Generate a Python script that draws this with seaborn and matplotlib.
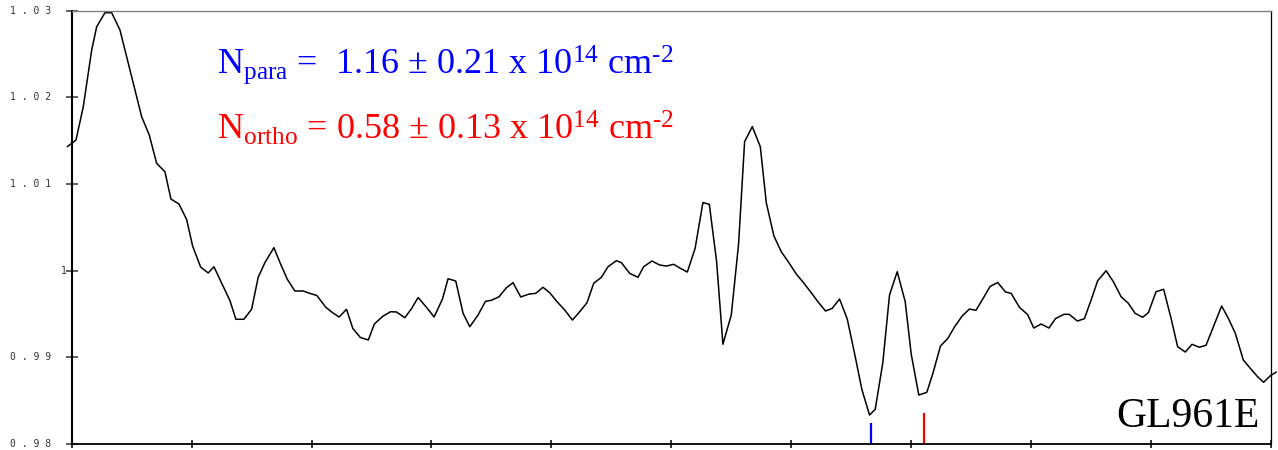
import numpy as np
import pandas as pd
import matplotlib
matplotlib.use("Agg")
import matplotlib.pyplot as plt
import seaborn as sns

# Spectrum: channel position (tick units of 120) and normalised flux
channel = [
    -4.4, 4.3, 11.6, 20.0, 25.0, 33.3, 40.0, 48.3, 56.6, 63.3,
    70.0, 77.6, 85.0, 93.3, 99.3, 107.3, 115.0, 121.0, 129.0, 136.6,
    142.3, 150.0, 158.3, 164.3, 172.3, 180.0, 186.6, 193.3, 202.3, 209.0,
    215.6, 223.3, 231.6, 238.3, 245.3, 254.3, 261.0, 267.6, 275.0, 281.3,
    288.8, 296.8, 302.8, 311.3, 319.0, 325.0, 333.3, 340.0, 346.6, 355.0,
    362.6, 371.0, 376.6, 384.3, 391.6, 398.3, 406.6, 414.0, 420.0, 427.6,
    435.0, 441.6, 449.3, 457.6, 464.3, 471.6, 478.3, 485.6, 493.3, 501.0,
    508.3, 515.6, 522.3, 530.0, 536.6, 545.0, 550.0, 558.3, 566.6, 572.3,
    580.6, 588.3, 595.0, 602.3, 609.0, 616.0, 623.8, 631.6, 638.0, 645.3,
    651.6, 660.0, 667.3, 673.3, 681.0, 689.0, 695.0, 702.6, 710.0, 717.6,
    725.0, 733.3, 740.0, 746.6, 754.3, 761.0, 768.3, 776.0, 783.3, 790.6,
    798.3, 804.0, 811.6, 818.3, 826.0, 834.0, 840.0, 847.6, 855.6, 861.6,
    869.3, 876.6, 883.3, 891.0, 898.3, 904.8, 911.6, 919.0, 926.6, 934.3,
    940.0, 948.3, 956.6, 962.6, 970.0, 977.8, 984.3, 992.8, 998.0, 1006.3,
    1013.3, 1020.0, 1026.6, 1035.0, 1042.3, 1050.0, 1057.3, 1064.0, 1071.6, 1077.3,
    1085.0, 1092.6, 1100.0, 1106.6, 1114.3, 1121.0, 1128.3, 1135.0, 1142.6, 1150.6,
    1157.3, 1164.3, 1172.3, 1179.3, 1186.6, 1192.6, 1199.0, 1205.3,
]
flux = [
    1.01430, 1.01507, 1.01891, 1.02545, 1.02814, 1.02976, 1.02976, 1.02776, 1.02392, 1.02084,
    1.01776, 1.01565, 1.01238, 1.01141, 1.00826, 1.00769, 1.00590, 1.00284, 1.00042, 0.99973,
    1.00045, 0.99857, 0.99655, 0.99439, 0.99439, 0.99554, 0.99923, 1.00092, 1.00265, 1.00077,
    0.99903, 0.99765, 0.99765, 0.99738, 0.99713, 0.99577, 0.99515, 0.99465, 0.99554, 0.99332,
    0.99229, 0.99200, 0.99384, 0.99473, 0.99526, 0.99523, 0.99457, 0.99561, 0.99690, 0.99577,
    0.99465, 0.99673, 0.99907, 0.99880, 0.99508, 0.99353, 0.99488, 0.99646, 0.99658, 0.99699,
    0.99803, 0.99861, 0.99696, 0.99730, 0.99738, 0.99808, 0.99745, 0.99642, 0.99546, 0.99430,
    0.99526, 0.99630, 0.99854, 0.99923, 1.00045, 1.00115, 1.00092, 0.99969, 0.99923, 1.00045,
    1.00111, 1.00065, 1.00053, 1.00073, 1.00027, 0.99984, 1.00258, 1.00786, 1.00765, 1.00103,
    0.99151, 0.99490, 1.00311, 1.01488, 1.01661, 1.01430, 1.00784, 1.00400, 1.00218, 1.00092,
    0.99961, 0.99846, 0.99745, 0.99642, 0.99534, 0.99565, 0.99673, 0.99442, 0.99046, 0.98631,
    0.98334, 0.98400, 0.98938, 0.99719, 0.99988, 0.99642, 0.99038, 0.98565, 0.98596, 0.98811,
    0.99131, 0.99217, 0.99350, 0.99477, 0.99557, 0.99542, 0.99673, 0.99819, 0.99863, 0.99754,
    0.99738, 0.99577, 0.99492, 0.99338, 0.99384, 0.99338, 0.99446, 0.99496, 0.99496, 0.99419,
    0.99446, 0.99661, 0.99884, 0.99999, 0.99872, 0.99699, 0.99623, 0.99508, 0.99462, 0.99515,
    0.99757, 0.99785, 0.99450, 0.99122, 0.99061, 0.99150, 0.99116, 0.99139, 0.99361, 0.99592,
    0.99450, 0.99277, 0.98969, 0.98873, 0.98776, 0.98712, 0.98784, 0.98831,
]

# Line markers for the para and ortho transitions
line_pos = [800.0, 853.3]
line_top = [0.98239, 0.98354]
line_colors = ["#0000ff", "#ff0000"]

y_ticks = [0.98, 0.99, 1.00, 1.01, 1.02, 1.03]
y_tick_labels = ["0 . 9 8", "0 . 9 9", "1", "1 . 0 1", "1 . 0 2", "1 . 0 3"]
x_ticks = list(range(0, 1201, 120))

para_label = r"$\mathrm{N_{para}}$ =  1.16 ± 0.21 x 10$^{14}$ cm$^{\text{-2}}$"
ortho_label = r"$\mathrm{N_{ortho}}$ = 0.58 ± 0.13 x 10$^{14}$ cm$^{\text{-2}}$"
source_name = "GL961E"

sns.set_style("white")
plt.rcParams["mathtext.fontset"] = "custom"
plt.rcParams["mathtext.rm"] = "Liberation Serif"
plt.rcParams["mathtext.it"] = "Liberation Serif:italic"
plt.rcParams["mathtext.bf"] = "Liberation Serif:bold"
plt.rcParams["font.family"] = ["Liberation Serif", "DejaVu Sans"]

fig = plt.figure(figsize=(12.78, 4.5), dpi=100)
ax = fig.add_axes([0.0561, 0.01333, 0.93842, 0.96311])

df = pd.DataFrame({"channel": channel, "flux": flux})
sns.lineplot(data=df, x="channel", y="flux", sort=False, estimator=None,
             color="black", lw=1.1, ax=ax, clip_on=False)

for pos, top, col in zip(line_pos, line_top, line_colors):
    ax.plot([pos, pos], [y_ticks[0], top], color=col, lw=1.6, solid_capstyle="butt")

ax.set_xlim(0, 1200)
ax.set_ylim(y_ticks[0], y_ticks[-1])
ax.set_xticks(x_ticks)
ax.set_xticklabels([])
ax.set_yticks(y_ticks)
ax.set_yticklabels([])
ax.set_xlabel("")
ax.set_ylabel("")
ax.tick_params(axis="y", direction="inout", length=8, width=1.1, color="#333333", left=True)
ax.tick_params(axis="x", direction="inout", length=5.8, width=1.1, color="black", bottom=True)

for val, lab in zip(y_ticks, y_tick_labels):
    if lab == "1":
        ax.text(-0.0068, val, lab, transform=ax.get_yaxis_transform(), ha="center",
                va="center", fontsize=7, family="DejaVu Sans Mono", color="#333333")
    else:
        ax.text(-0.0514, val, lab, transform=ax.get_yaxis_transform(), ha="left",
                va="center", fontsize=7, family="DejaVu Sans Mono", color="#333333")

ax.spines["left"].set_linewidth(1.5)
ax.spines["left"].set_color("black")
ax.spines["bottom"].set_linewidth(1.3)
ax.spines["bottom"].set_color("black")
ax.spines["top"].set_linewidth(1.0)
ax.spines["top"].set_color("#808080")
ax.spines["right"].set_linewidth(0.9)
ax.spines["right"].set_color("black")

ax.text(0.1209, 0.8537, para_label, transform=ax.transAxes, color="#0000ff",
        fontsize=26, va="baseline", ha="left")
ax.text(0.1209, 0.7014, ortho_label, transform=ax.transAxes, color="#ff0000",
        fontsize=26, va="baseline", ha="left")
ax.text(0.9908, 0.0399, source_name, transform=ax.transAxes, color="black",
        fontsize=30, va="baseline", ha="right")

fig.savefig("out.png", dpi=100)
